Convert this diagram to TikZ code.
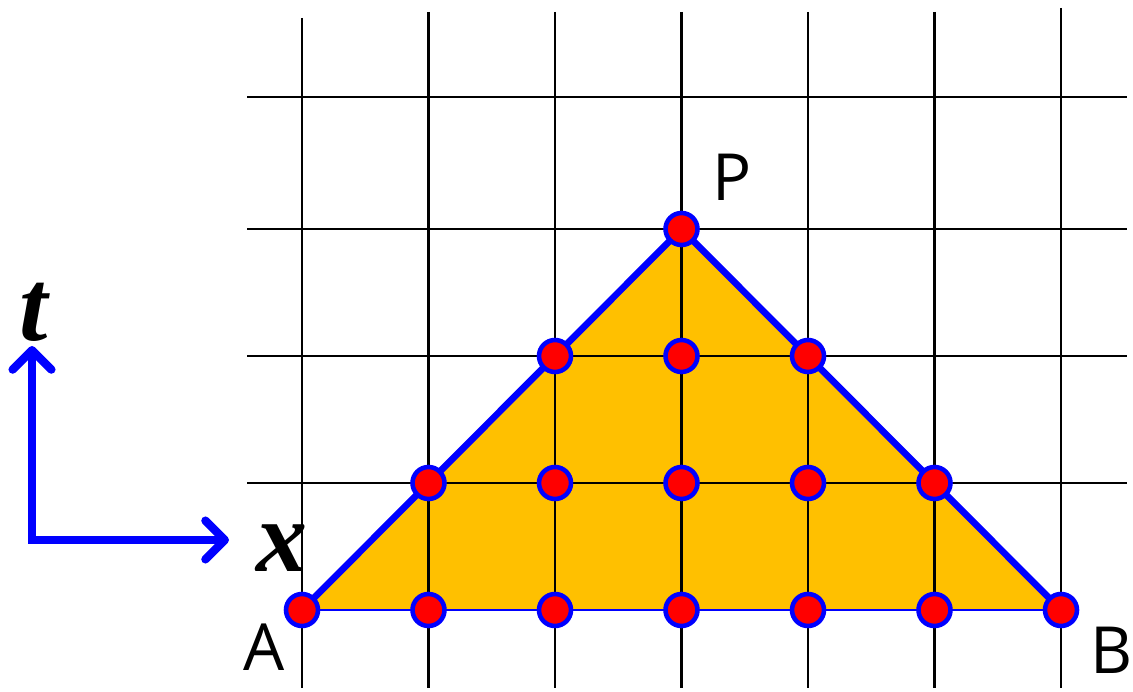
\documentclass[tikz,border=0pt]{standalone}
\usepackage{fontspec}
\setmainfont{Liberation Serif}
\newfontfamily\lblfont{Open Sans}
\usetikzlibrary{arrows.meta}
\definecolor{fillorange}{HTML}{FFC000}
\definecolor{edgeblue}{HTML}{0000FF}
\definecolor{dotred}{HTML}{FF0000}
\tikzset{
  gridline/.style={black, line width=1.2pt},
  dot/.style={circle, fill=dotred, draw=edgeblue, line width=2.6pt, minimum size=0.64cm, inner sep=0pt},
  sidelabel/.style={inner sep=0pt, font=\lblfont\fontsize{37}{40}\selectfont},
  axislabel/.style={inner sep=0pt, font=\bfseries\itshape\fontsize{58}{60}\selectfont},
  axis/.style={edgeblue, line width=4.8pt, line join=miter,
    {Straight Barb[length=11pt, width=22pt, line cap=round, line join=round]}-{Straight Barb[length=11pt, width=22pt, line cap=round, line join=round]}}
}
\begin{document}
\begin{tikzpicture}[x=0.02cm, y=-0.02cm]
\useasboundingbox (0,0) rectangle (1133,692);
% grid points
\foreach \i in {0,...,6} {
  \foreach \j in {0,...,3} {
    \coordinate (g\i\j) at ({302+126.5*\i},{610-127*\j});
  }
}
% fill
\fill[fillorange] (g00) -- (g33) -- (g60) -- cycle;
% vertical grid lines
\foreach \i/\top in {0/18,1/12,2/12,3/12,4/12,5/12,6/8} {
  \draw[gridline] ({302+126.5*\i},\top) -- ({302+126.5*\i},688);
}
% horizontal grid lines
\foreach \yy in {97,229,356,483} {
  \draw[gridline] (247,\yy) -- (1127,\yy);
}
% triangle edges
\draw[edgeblue, line width=3.8pt, line join=round] (g00) -- (g33) -- (g60);
\draw[edgeblue, line width=1.7pt] (g00) -- (g60);
% dots
\node[dot] (A) at (g00) {};
\node[dot] (b1) at (g10) {};
\node[dot] (b2) at (g20) {};
\node[dot] (b3) at (g30) {};
\node[dot] (b4) at (g40) {};
\node[dot] (b5) at (g50) {};
\node[dot] (B) at (g60) {};
\node[dot] (m1) at (g11) {};
\node[dot] (m2) at (g21) {};
\node[dot] (m3) at (g31) {};
\node[dot] (m4) at (g41) {};
\node[dot] (m5) at (g51) {};
\node[dot] (u2) at (g22) {};
\node[dot] (u3) at (g32) {};
\node[dot] (u4) at (g42) {};
\node[dot] (P) at (g33) {};
% labels
\node[sidelabel] (Alabel) at (264,647) {A};
\node[sidelabel] (Blabel) at (1112,650) {B};
\node[sidelabel] (Plabel) at (732,177) {P};
% axes
\coordinate (origin) at (32,540);
\coordinate (tend) at (32,346);
\coordinate (xend) at (229,540);
\draw[axis] (tend) -- (origin) -- (xend);
\node[axislabel] (tlabel) at (34,312) {t};
\node[axislabel] (xlabel) at (282,548) {x};
\end{tikzpicture}
\end{document}
